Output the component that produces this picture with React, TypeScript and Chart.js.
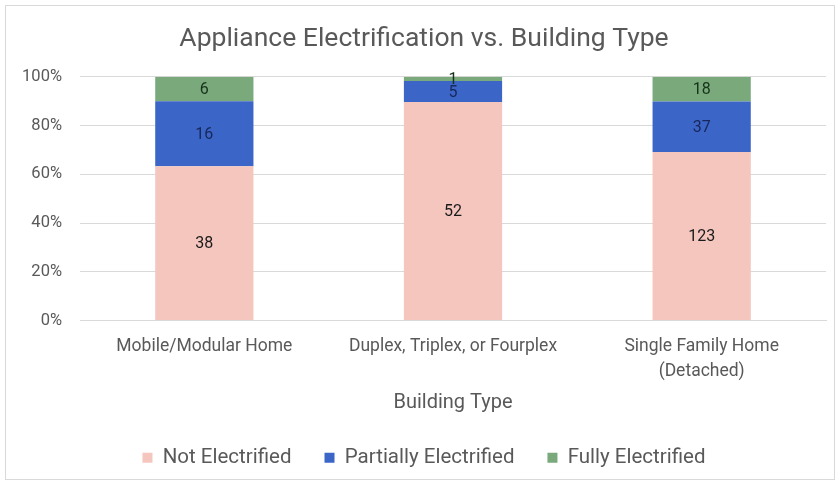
import React, { useEffect, useRef } from "react";
import { Chart, registerables } from "chart.js";

Chart.register(...registerables);

const categories: (string | string[])[] = [
  "Mobile/Modular Home",
  "Duplex, Triplex, or Fourplex",
  ["Single Family Home", "(Detached)"],
];
const notElectrified = [38, 52, 123];
const partiallyElectrified = [16, 5, 37];
const fullyElectrified = [6, 1, 18];
const yTicks = [0, 20, 40, 60, 80, 100];

const FONT = "Roboto, 'Noto Sans', sans-serif";

const totals = categories.map(
  (_, i) => notElectrified[i] + partiallyElectrified[i] + fullyElectrified[i]
);
const pct = (arr: number[]) => arr.map((v, i) => (v / totals[i]) * 100);

const labelPlugin = {
  id: "segLabels",
  afterDatasetsDraw(chart: any) {
    const ctx = chart.ctx;
    ctx.save();
    ctx.textAlign = "center";
    ctx.textBaseline = "middle";
    ctx.font = `16px ${FONT}`;
    chart.data.datasets.forEach((ds: any, di: number) => {
      const meta = chart.getDatasetMeta(di);
      meta.data.forEach((el: any, i: number) => {
        const y = (el.y + el.base) / 2;
        ctx.fillStyle = ds.labelColor;
        ctx.fillText(String(ds.counts[i]), el.x, y + 1);
      });
    });
    ctx.restore();
  },
};

export default function App() {
  const ref = useRef<HTMLCanvasElement>(null);
  useEffect(() => {
    document.body.style.margin = "0";
    const chart = new Chart(ref.current!, {
      type: "bar",
      data: {
        labels: categories,
        datasets: [
          {
            label: "Not Electrified",
            data: pct(notElectrified),
            counts: notElectrified,
            labelColor: "#1a1a1a",
            backgroundColor: "#F5C6BE",
          } as any,
          {
            label: "Partially Electrified",
            data: pct(partiallyElectrified),
            counts: partiallyElectrified,
            labelColor: "#17285a",
            backgroundColor: "#3C65C8",
          } as any,
          {
            label: "Fully Electrified",
            data: pct(fullyElectrified),
            counts: fullyElectrified,
            labelColor: "#16331a",
            backgroundColor: "#7AA97C",
          } as any,
        ],
      },
      options: {
        animation: false,
        responsive: false,
        layout: { padding: { left: 22, right: 9, top: 6, bottom: 2 } },
        datasets: { bar: { barPercentage: 0.395, categoryPercentage: 1 } },
        plugins: {
          title: {
            display: true,
            text: "Appliance Electrification vs. Building Type",
            color: "#595959",
            font: { family: FONT, size: 26.5, weight: "normal" },
            padding: { top: 17, bottom: 22 },
          },
          legend: {
            position: "bottom",
            labels: {
              color: "#595959",
              font: { family: FONT, size: 20.5 },
              boxWidth: 10,
              boxHeight: 10,
              padding: 33,
            },
          },
          tooltip: { enabled: false },
        },
        scales: {
          x: {
            stacked: true,
            grid: { display: false },
            border: { color: "#d9d9d9" },
            ticks: {
              color: "#595959",
              font: { family: FONT, size: 17.5, lineHeight: 1.4 },
              maxRotation: 0,
              autoSkip: false,
              padding: 6,
            },
            afterFit: (s: any) => {
              s.height -= 7;
            },
            title: {
              display: true,
              text: "Building Type",
              color: "#595959",
              font: { family: FONT, size: 20 },
              padding: { top: 8, bottom: 0 },
            },
          },
          y: {
            stacked: true,
            min: 0,
            max: 100,
            afterBuildTicks: (s: any) => {
              s.ticks = yTicks.map((v) => ({ value: v }));
            },
            afterFit: (s: any) => {
              s.width = 58;
            },
            grid: { color: "#d9d9d9", drawTicks: false },
            border: { display: false },
            ticks: {
              color: "#595959",
              font: { family: FONT, size: 16.5 },
              padding: 18,
              callback: (v: any) => `${v}%`,
            },
          },
        },
      },
      plugins: [labelPlugin],
    } as any);
    return () => chart.destroy();
  }, []);
  return (
    <div style={{ position: "relative", width: 835, height: 480 }}>
      <canvas ref={ref} width={835} height={480} />
      <div
        style={{
          position: "absolute",
          left: 5,
          top: 5,
          width: 830,
          height: 475,
          border: "1px solid #d9d9d9",
          boxSizing: "border-box",
          pointerEvents: "none",
        }}
      />
    </div>
  );
}
